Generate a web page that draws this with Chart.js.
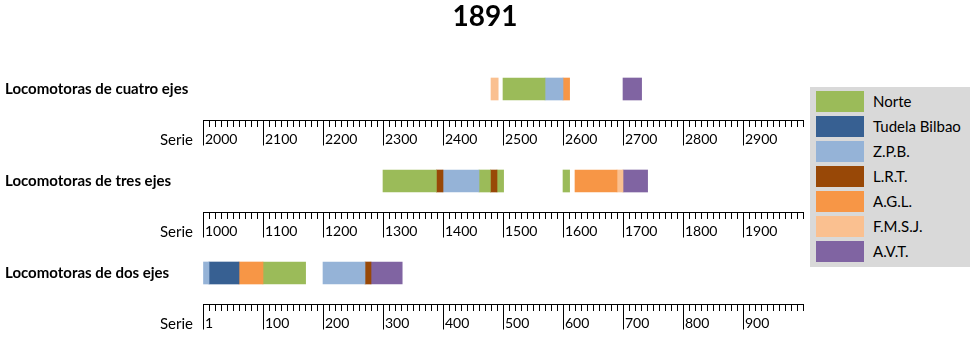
<!DOCTYPE html>
<html lang="es">
<head>
<meta charset="utf-8">
<title>1891</title>
<script src="https://cdn.jsdelivr.net/npm/chart.js@4.4.1/dist/chart.umd.min.js"></script>
<style>
    body { margin: 0; background: #ffffff; }
    #wrap { position: relative; width: 970px; height: 354px; }
    #leyenda {
        position: absolute; left: 810px; top: 87px; width: 160px; height: 180px;
        background: #d9d9d9; font: 15px Lato, sans-serif; color: #000;
    }
    #leyenda .item { position: absolute; left: 6px; height: 21px; line-height: 21px; white-space: nowrap; }
    #leyenda .caja { display: inline-block; width: 48px; height: 21px; vertical-align: top; margin-right: 9px; }
</style>
</head>
<body>
<div id="wrap">
    <canvas id="seriesChart" width="970" height="354"></canvas>
    <div id="leyenda"></div>
</div>
<script>
// Filas del gráfico y numeración inicial de cada serie
const categories = ['Locomotoras de cuatro ejes', 'Locomotoras de tres ejes', 'Locomotoras de dos ejes'];
const serieBase = [2000, 1000, 0];

// Compañías (orden de la leyenda) y sus colores
const companies = ['Norte', 'Tudela Bilbao', 'Z.P.B.', 'L.R.T.', 'A.G.L.', 'F.M.S.J.', 'A.V.T.'];
const companyColors = ['#9bbb59', '#376092', '#95b3d7', '#984807', '#f79646', '#fac090', '#8064a2'];

// Tramos de numeración: [compañía, desde, hasta]
const cuatroEjes = [
    ['F.M.S.J.', 2480, 2492],
    ['Norte', 2500, 2570],
    ['Z.P.B.', 2570, 2600],
    ['A.G.L.', 2600, 2611],
    ['A.V.T.', 2700, 2731]
];
const tresEjes = [
    ['Norte', 1300, 1389],
    ['L.R.T.', 1389, 1400],
    ['Z.P.B.', 1400, 1460],
    ['Norte', 1460, 1479],
    ['L.R.T.', 1479, 1490],
    ['Norte', 1490, 1501],
    ['Norte', 1600, 1611],
    ['A.G.L.', 1620, 1690],
    ['F.M.S.J.', 1690, 1700],
    ['A.V.T.', 1700, 1741]
];
const dosEjes = [
    ['Z.P.B.', 0, 10],
    ['Tudela Bilbao', 10, 60],
    ['A.G.L.', 60, 100],
    ['Norte', 100, 171],
    ['Z.P.B.', 200, 270],
    ['L.R.T.', 270, 280],
    ['A.V.T.', 280, 332]
];
const rows = [cuatroEjes, tresEjes, dosEjes];

const FONT = 'Lato';
const AXIS_OFFSET = 0.34; // eje de cada fila, un poco por debajo de las barras

// Un dataset por tramo, todos en la misma posición de su fila
const datasets = [];
rows.forEach((tramos, r) => {
    tramos.forEach(([company, from, to]) => {
        datasets.push({
            label: company,
            data: categories.map((_, i) => (i === r ? [from, to] : null)),
            xAxisID: 'x' + r,
            backgroundColor: companyColors[companies.indexOf(company)],
            borderWidth: 0,
            barThickness: 22,
            grouped: false
        });
    });
});

const scales = {
    y: {
        type: 'category',
        labels: categories,
        grid: { display: false, drawTicks: false },
        border: { display: false },
        ticks: {
            crossAlign: 'far',
            padding: 5,
            color: '#000',
            font: { family: FONT, size: 15, weight: 'bold' }
        },
        afterFit: (scale) => { scale.width = 198; }
    },
    // hueco a la derecha para la leyenda (así el título queda centrado en el lienzo)
    yLeyenda: {
        type: 'category',
        labels: categories,
        position: 'right',
        grid: { display: false, drawTicks: false },
        border: { display: false },
        ticks: { display: false },
        afterFit: (scale) => { scale.width = 162; }
    }
};
// Un eje horizontal por fila, colocado bajo sus barras
serieBase.forEach((base, r) => {
    scales['x' + r] = {
        type: 'linear',
        position: { y: r + AXIS_OFFSET },
        min: base,
        max: base + 1000,
        grid: { drawOnChartArea: false, drawTicks: true, tickLength: 6, color: '#000', lineWidth: 1 },
        border: { display: true, color: '#000', width: 1 },
        ticks: {
            stepSize: 10,
            autoSkip: false,
            maxRotation: 0,
            align: 'start',
            labelOffset: 2,
            padding: 5,
            color: '#000',
            font: { family: FONT, size: 14 },
            callback: (v) => {
                const n = Math.round(v);
                if (n % 100 !== 0 || n >= base + 1000) return '';
                return n === 0 ? '1' : String(n);
            }
        }
    };
});

// Marcas largas cada 100 y rótulo "Serie" a la izquierda de cada eje
const serieAxes = {
    id: 'serieAxes',
    afterDraw(chart) {
        const { ctx } = chart;
        const yScale = chart.scales.y;
        ctx.save();
        ctx.strokeStyle = '#000';
        ctx.lineWidth = 1;
        serieBase.forEach((base, r) => {
            const scale = chart.scales['x' + r];
            const yAxis = Math.round(yScale.getPixelForValue(r + AXIS_OFFSET) - 0.5) + 0.5;
            ctx.beginPath();
            scale.ticks.forEach((t) => {
                const n = Math.round(t.value);
                if (n % 100 !== 0 || n >= scale.max) return;
                const x = Math.round(scale.getPixelForValue(n) - 0.5) + 0.5;
                ctx.moveTo(x, yAxis);
                ctx.lineTo(x, yAxis + 25);
            });
            ctx.stroke();

            ctx.fillStyle = '#000';
            ctx.font = `15px ${FONT}`;
            ctx.textAlign = 'right';
            ctx.textBaseline = 'middle';
            ctx.fillText('Serie', scale.left - 10, yAxis + 6 + 5 + 8.4);
        });
        ctx.restore();
    }
};

new Chart(document.getElementById('seriesChart'), {
    type: 'bar',
    data: { labels: categories, datasets: datasets },
    options: {
        indexAxis: 'y',
        responsive: false,
        animation: false,
        layout: { padding: { left: 5, right: 5, top: 0, bottom: 35 } },
        scales: scales,
        plugins: {
            legend: { display: false }, // leyenda en HTML a la derecha
            tooltip: { enabled: false },
            title: {
                display: true,
                text: '1891',
                color: '#000',
                font: { family: FONT, size: 28, weight: 'bold' },
                padding: { top: 0, bottom: 9.4 }
            }
        }
    },
    plugins: [serieAxes]
});

// Leyenda
const leyenda = document.getElementById('leyenda');
companies.forEach((name, i) => {
    const item = document.createElement('div');
    item.className = 'item';
    item.style.top = (4 + i * 25) + 'px';
    const caja = document.createElement('span');
    caja.className = 'caja';
    caja.style.background = companyColors[i];
    item.appendChild(caja);
    item.appendChild(document.createTextNode(name));
    leyenda.appendChild(item);
});
</script>
</body>
</html>
